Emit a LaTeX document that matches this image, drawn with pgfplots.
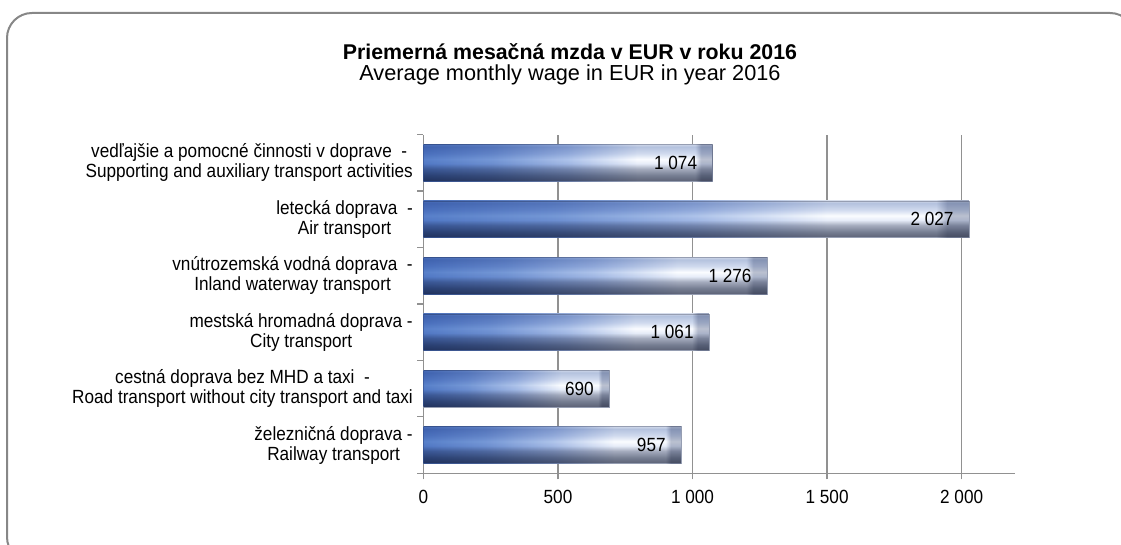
\documentclass[border=0pt]{standalone}
\usepackage{fontspec}
\setmainfont{Liberation Sans}[FakeStretch=0.9]
\newfontfamily\titlefont{Liberation Sans}
\usepackage{pgfplots}
\pgfplotsset{compat=1.18}

\definecolor{frameGray}{RGB}{135,135,135}
\definecolor{gridGray}{RGB}{145,145,145}
\definecolor{barEdge}{RGB}{150,158,178}
\definecolor{v1}{RGB}{92,98,118}
\definecolor{v2}{RGB}{118,126,146}
\definecolor{v3}{RGB}{165,172,190}
\definecolor{v4}{RGB}{230,236,248}
\definecolor{v5}{RGB}{250,252,255}
\definecolor{v6}{RGB}{208,218,238}
\definecolor{v7}{RGB}{180,194,222}
\definecolor{v8}{RGB}{205,214,232}
\definecolor{h1}{RGB}{90,130,202}
\definecolor{h2}{RGB}{120,154,214}
\definecolor{h3}{RGB}{178,198,234}
\definecolor{h4}{RGB}{255,255,255}
\definecolor{h5}{RGB}{190,195,208}

\pgfdeclareverticalshading{barV}{100bp}{%
  color(0bp)=(v1); color(25bp)=(v1); color(33bp)=(v2); color(42bp)=(v3);
  color(49bp)=(v4); color(55bp)=(v5); color(63bp)=(v6); color(72bp)=(v7);
  color(75bp)=(v8); color(100bp)=(v8)}
\pgfdeclarehorizontalshading{barH}{100bp}{%
  color(0bp)=(h1); color(25bp)=(h1); color(37bp)=(h2); color(50bp)=(h3);
  color(62bp)=(h4); color(72bp)=(h4); color(73bp)=(h5); color(75bp)=(h5);
  color(100bp)=(h5)}

\pgfplotsset{
  baseA/.style={shade, shading=barV, draw=barEdge, line width=0.4pt},
  baseB/.style={shade, shading=barH, blend mode=multiply, draw=none,
    nodes near coords,
    nodes near coords align={anchor=east, xshift=-8pt},
    every node near coord/.append style={font=\fontsize{14.3}{16}\selectfont, text=black}},
}

\begin{document}
\begin{tikzpicture}
\useasboundingbox (0,0) rectangle (840.75pt,408.75pt);
\clip (0,0) rectangle (840.75pt,408.75pt);
\draw[rounded corners=18.75pt, line width=1.5pt, color=frameGray]
  (5.25pt,-12.75pt) rectangle (851.25pt,399pt);
\node[font=\titlefont\fontsize{16}{19}\selectfont\bfseries] at (427.5pt,370pt)
  {Priemerná mesačná mzda v EUR v roku 2016};
\node[font=\titlefont\fontsize{16.3}{19}\selectfont] at (427.5pt,352.5pt)
  {Average monthly wage in EUR in year 2016};
\begin{axis}[
  at={(317.6pt,53.8pt)}, anchor=south west,
  scale only axis, width=444pt, height=254pt,
  xbar, bar shift=0pt, bar width=0.65,
  xmin=0, xmax=2200, ymin=-0.5, ymax=5.5,
  axis lines*=left,
  axis line style={color=gridGray, line width=1.1pt},
  xtick={0,500,1000,1500,2000},
  scaled x ticks=false,
  /pgf/number format/.cd, assume math mode=true, 1000 sep={\ },
  /pgfplots/.cd,
  xmajorgrids,
  grid style={color=gridGray, line width=1pt},
  tick align=outside,
  major tick length=4.5pt, minor tick length=4.5pt,
  tick style={color=gridGray, line width=1pt},
  major y tick style={draw=none},
  ytick={0,1,2,3,4,5},
  minor ytick={-0.5,0.5,1.5,2.5,3.5,4.5,5.5},
  yticklabels={
    {železničná doprava -\\Railway transport},
    {cestná doprava bez MHD a taxi\ \ -\\Road transport without city transport and taxi},
    {mestská hromadná doprava -\\City transport},
    {vnútrozemská vodná doprava\ \ -\\Inland waterway transport},
    {letecká doprava\ \ -\\Air transport},
    {vedľajšie a pomocné činnosti v doprave\ \ -\\Supporting and auxiliary transport activities}},
  yticklabel style={align=center, font=\fontsize{14.3}{15}\selectfont},
  xticklabel style={font=\fontsize{14.3}{16}\selectfont, yshift=-5pt},
  point meta=x,
]
% base layer (one bar per plot so that each bar gets its own shading)
\addplot[baseA] coordinates {(957,0)};
\addplot[baseA] coordinates {(690,1)};
\addplot[baseA] coordinates {(1061,2)};
\addplot[baseA] coordinates {(1276,3)};
\addplot[baseA] coordinates {(2027,4)};
\addplot[baseA] coordinates {(1074,5)};
% colour layer with value labels
\addplot[baseB] coordinates {(957,0)};
\addplot[baseB] coordinates {(690,1)};
\addplot[baseB] coordinates {(1061,2)};
\addplot[baseB] coordinates {(1276,3)};
\addplot[baseB] coordinates {(2027,4)};
\addplot[baseB] coordinates {(1074,5)};
\end{axis}
\end{tikzpicture}
\end{document}
